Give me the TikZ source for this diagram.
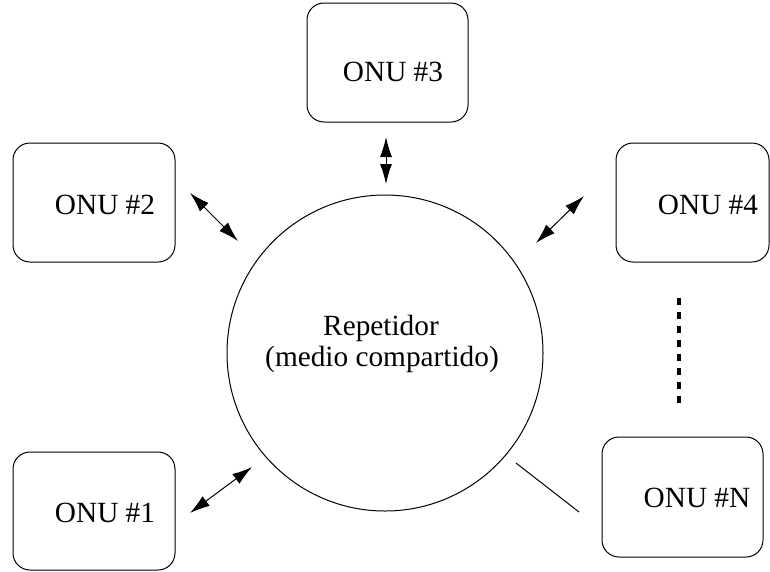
\documentclass[tikz,border=0pt]{standalone}
\usepackage{fontspec}
\setmainfont{Liberation Serif}
\usetikzlibrary{arrows.meta}
\begin{document}
\begin{tikzpicture}[x=1pt,y=-1pt,
  onubox/.style={draw,line width=1pt,rounded corners=17pt,inner sep=0pt},
  onutext/.style={anchor=base,inner sep=0pt,font=\fontsize{29.3}{30}\selectfont},
  dbl/.style={line width=1pt,{Latex[length=20pt,width=12pt]}-{Latex[length=20pt,width=12pt]}},
  line width=1pt]
\useasboundingbox (0,0) rectangle (770,571);

% central repeater
\node[draw,circle,minimum size=316pt,inner sep=0pt] (rep) at (385,353) {};
\node[onutext] (rep1) at (381,335) {Repetidor};
\node[onutext] (rep2) at (382,366) {(medio compartido)};

% ONU boxes
\node[onubox,minimum width=161pt,minimum height=119pt] (b3) at (387.5,62.5) {};
\node[onutext] (t3) at (393,81) {ONU \#3};
\node[onubox,minimum width=162pt,minimum height=119pt] (b2) at (94,202.5) {};
\node[onutext] (t2) at (105,214) {ONU \#2};
\node[onubox,minimum width=153pt,minimum height=119pt] (b4) at (692.5,202.5) {};
\node[onutext] (t4) at (708,214) {ONU \#4};
\node[onubox,minimum width=162pt,minimum height=118pt] (b1) at (94,511) {};
\node[onutext] (t1) at (105,522) {ONU \#1};
\node[onubox,minimum width=161pt,minimum height=120pt] (bn) at (682.5,497) {};
\node[onutext] (tn) at (697,507) {ONU \#N};

% link end points
\coordinate (a3s) at (386,137);
\coordinate (a3e) at (386,184);
\coordinate (a2s) at (190,193);
\coordinate (a2e) at (238,241);
\coordinate (a4s) at (536,243);
\coordinate (a4e) at (584,196);
\coordinate (a1s) at (190,513);
\coordinate (a1e) at (252,467);
\coordinate (lns) at (516,463);
\coordinate (lne) at (579,512);
\coordinate (dots) at (679,298);
\coordinate (dote) at (679,403);

% links
\draw[dbl] (a3s) -- (a3e);
\draw[dbl] (a2s) -- (a2e);
\draw[dbl] (a4s) -- (a4e);
\draw[dbl] (a1s) -- (a1e);
\draw (lns) -- (lne);
\draw[line width=4pt,dash pattern=on 7pt off 7pt] (dots) -- (dote);
\end{tikzpicture}
\end{document}
